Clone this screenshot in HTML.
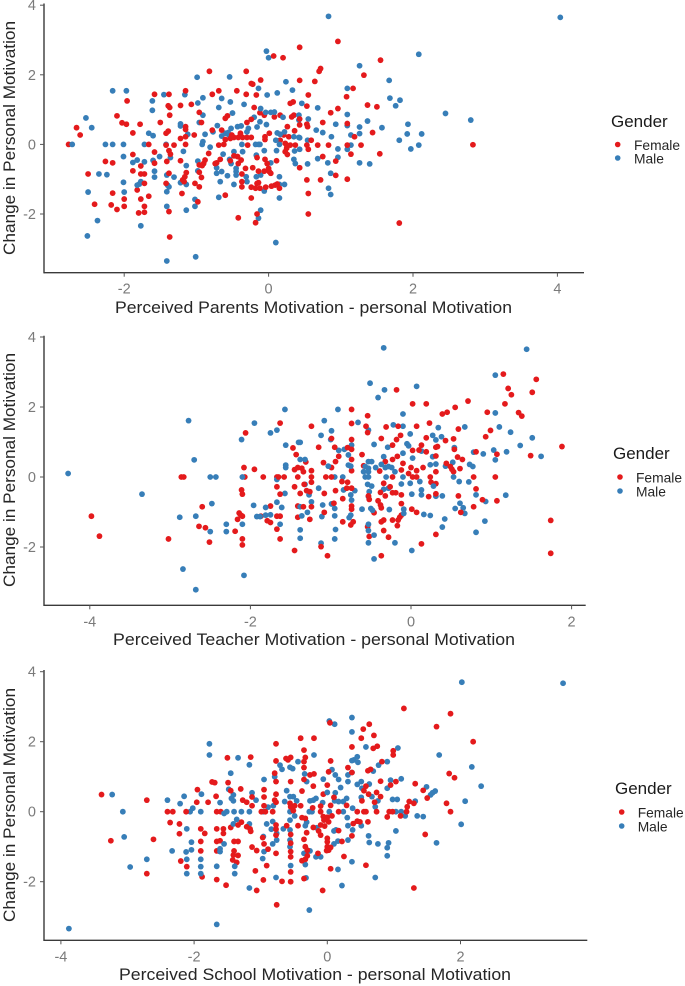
<!DOCTYPE html>
<html lang="en">
<head>
<meta charset="utf-8">
<title>Change in Personal Motivation scatter plots</title>
<style>
html,body{margin:0;padding:0;background:#fff;width:685px;height:986px;overflow:hidden}
svg{display:block;font-family:"Liberation Sans",Arial,sans-serif}
.title{font-size:16.5px;fill:#262626}
.tick{font-size:14.5px;fill:#7a7a7a}
.leg-title{font-size:17px;fill:#1a1a1a}
.leg{font-size:13.8px;fill:#262626}
</style>
</head>
<body>
<svg id="chart" xmlns="http://www.w3.org/2000/svg" width="685" height="986" viewBox="0 0 685 986">
  <g id="panel-parents">
    <text class="title" x="115" y="313" textLength="397" lengthAdjust="spacingAndGlyphs">Perceived Parents Motivation - personal Motivation</text>
    <text class="title" transform="translate(15,255) rotate(-90)" textLength="234" lengthAdjust="spacingAndGlyphs">Change in Personal Motivation</text>
    <text class="leg-title" x="611" y="127">Gender</text>
    <circle cx="617.7" cy="144.5" r="2.8" fill="#E41A1C"/>
    <text class="leg" x="634" y="150">Female</text>
    <circle cx="617.7" cy="158" r="2.8" fill="#377EB8"/>
    <text class="leg" x="634" y="163.5">Male</text>
  </g>
  <g id="panel-teacher">
    <text class="title" x="113" y="645" textLength="402" lengthAdjust="spacingAndGlyphs">Perceived Teacher Motivation - personal Motivation</text>
    <text class="title" transform="translate(15,587) rotate(-90)" textLength="234" lengthAdjust="spacingAndGlyphs">Change in Personal Motivation</text>
    <text class="leg-title" x="613" y="459">Gender</text>
    <circle cx="620" cy="477" r="2.8" fill="#E41A1C"/>
    <text class="leg" x="636" y="482.5">Female</text>
    <circle cx="620" cy="491" r="2.8" fill="#377EB8"/>
    <text class="leg" x="636" y="496.5">Male</text>
  </g>
  <g id="panel-school">
    <text class="title" x="119" y="980" textLength="392" lengthAdjust="spacingAndGlyphs">Perceived School Motivation - personal Motivation</text>
    <text class="title" transform="translate(15,922) rotate(-90)" textLength="234" lengthAdjust="spacingAndGlyphs">Change in Personal Motivation</text>
    <text class="leg-title" x="615" y="794">Gender</text>
    <circle cx="621.7" cy="812" r="2.8" fill="#E41A1C"/>
    <text class="leg" x="637.7" y="817.5">Female</text>
    <circle cx="621.7" cy="826" r="2.8" fill="#377EB8"/>
    <text class="leg" x="637.7" y="831.5">Male</text>
  </g>
</svg>
<script>
const yTicks = [4, 2, 0, -2];
const parentsXTicks = [-2, 0, 2, 4];
const teacherXTicks = [-4, -2, 0, 2];
const schoolXTicks = [-4, -2, 0, 2];

const parentsMale = [[-2.72,0],[-2.53,.76],[-2.45,.48],[-2.35,-.85],[-2.5,-1.37],[-2.37,-2.19],[-2.51,-2.63],[-2.24,-.87],[-2.26,0],[-2.16,0],[-2.16,1.54],[-1.97,1.54],[-2.01,0],[-2.01,-.35],[-2.01,-1.09],[-2,-1.37],[-1.88,-.52],[-1.82,-.45],[-1.72,-.5],[-1.82,-1.17],[-1.79,-1.14],[-1.77,-1.07],[-1.77,-2.34],[-1.66,.32],[-1.6,.25],[-1.72,0],[-1.61,1.25],[-1.61,.98],[-1.6,-.46],[-1.58,-.77],[-1.58,-.94],[-1.51,-.35],[-1.45,1.43],[-1.42,0],[-1.36,-.38],[-1.41,-.88],[-1.4,-1.17],[-1.38,-1.22],[-1.41,-1.36],[-1.41,-1.78],[-1.41,-3.35],[-1.31,-.94],[-1.22,.59],[-1.22,.53],[-1.12,.29],[-1.16,1.43],[-1.18,-.2],[-1.14,-.61],[-1.22,-1.1],[-1.14,-1.15],[-1.14,-1.89],[-.99,1.93],[-.91,1.34],[-.98,1.19],[-.91,.84],[-.96,.63],[-.88,.29],[-.91,.08],[-.92,0],[-.81,-.08],[-.98,-.48],[-.98,-.76],[-1.02,-1.58],[-1.02,-1.78],[-1.01,-3.23],[-.72,-.67],[-.72,-.83],[-.67,-1.07],[-.69,-1.52],[-.65,1.32],[-.69,1.06],[-.53,1.22],[-.54,1.94],[-.5,.9],[-.71,.54],[-.77,.36],[-.52,.46],[-.6,.32],[-.65,.24],[-.56,.34],[-.55,.27],[-.63,-.28],[-.65,-.78],[-.57,-.9],[-.52,-.55],[-.48,-1.15],[-.54,-.43],[-.48,-.21],[-.45,-.69],[-.45,-.78],[-.45,-.88],[-.43,.51],[-.38,.53],[-.34,1.15],[-.37,0],[-.36,-.21],[-.30,.36],[-.31,-.93],[-.3,-1.07],[-.28,.46],[-.2,.78],[-.16,.5],[-.14,1.61],[-.17,-.31],[-.18,0],[-.14,0],[-.12,0],[-.12,.65],[-.11,1.03],[-.02,1.42],[-.03,2.68],[0,2.49],[-.17,-.93],[-.11,-.88],[-.11,-1.89],[-.14,-2.12],[-.06,-.18],[-.06,-1.34],[-.03,.57],[-.04,.92],[.03,.92],[.08,.93],[.12,1.48],[.24,1.8],[.33,1.56],[.2,.78],[.42,.84],[.42,.7],[.12,.33],[.16,.29],[.22,.36],[.1,.12],[.15,0],[.03,-.53],[.11,-.18],[.15,-.93],[.15,-1.15],[.22,-1.15],[.15,-1.54],[.1,-2.82],[.35,.22],[.36,-.19],[.35,-.43],[.37,-.55],[.42,.2],[.83,3.68],[4.04,3.65],[2.08,2.59],[1.26,2.26],[1.67,1.84],[1.09,1.61],[1.68,1.33],[1.82,1.27],[1.76,1.11],[.46,1.18],[.68,1.05],[1.09,.86],[2.45,.89],[2.8,.7],[.55,.73],[.93,.58],[1.09,.54],[1.26,.5],[1.37,.67],[1.57,.48],[1.93,.58],[.66,.41],[.75,.34],[.87,.22],[1.14,.27],[1.26,.31],[1.92,.3],[2.12,.3],[1.81,.12],[2.08,-.02],[1.97,-.13],[1.14,-.02],[1.09,-.14],[.96,-.13],[.96,-.37],[.68,-.41],[.82,-.53],[.54,-.56],[1.26,-.53],[1.4,-.56],[.86,-.83],[.83,-1.26],[.86,-1.44],[.54,.12],[.43,.19],[.43,-.14]];

const parentsFemale = [[-2.77,0],[-2.66,.48],[-2.61,.27],[-2.5,-.85],[-2.41,-1.72],[-2.26,-.49],[-2.16,-.53],[-2.16,-1.4],[-2.18,-1.74],[-2.1,-1.87],[-2.1,.82],[-2.03,.62],[-1.97,.58],[-1.96,1.25],[-2,-1.57],[-2,-1.78],[-1.88,.33],[-1.88,-.29],[-1.88,-.76],[-1.82,-1.31],[-1.78,.58],[-1.77,-.62],[-1.77,-.85],[-1.72,-.85],[-1.72,-1.12],[-1.77,-1.57],[-1.72,-1.78],[-1.8,-1.97],[-1.72,-1.95],[-1.66,-1.49],[-1.66,0],[-1.58,1.44],[-1.58,-.22],[-1.58,-.54],[-1.5,.63],[-1.42,.32],[-1.39,.38],[-1.38,1.44],[-1.39,1.11],[-1.37,1.06],[-1.37,.84],[-1.42,-.02],[-1.38,-.18],[-1.36,-.28],[-1.41,-.49],[-1.38,-.83],[-1.42,-1.12],[-1.38,-1.93],[-1.37,-2.66],[-1.31,-.02],[-1.22,1.12],[-1.15,1.54],[-1.07,1.15],[-1.03,.27],[-1.15,.51],[-1.15,.43],[-1.15,.22],[-1.22,.17],[-1.15,0],[-1.22,-.47],[-1.14,-.81],[-1.16,-.93],[-1.19,-1.02],[-1.17,-1.07],[-1.2,-1.41],[-.96,.92],[-.93,.63],[-.98,-1.65],[-1.02,-1.12],[-.96,-1.22],[-.93,-.95],[-.96,-.8],[-.96,-.59],[-.92,-.61],[-.9,-.55],[-.88,-.45],[-.83,-.26],[-.82,2.1],[-.78,1.44],[-.69,1.54],[-.78,.41],[-.65,.41],[-.72,-.53],[-.67,-.43],[-.69,-.02],[-.62,0],[-.6,-1.46],[-.6,.75],[-.57,.82],[-.6,.14],[-.53,.17],[-.48,.2],[-.42,.2],[-.36,.2],[-.3,.2],[-.24,.2],[-.51,.27],[-.39,.32],[-.29,-.02],[-.31,2.1],[-.24,1.75],[-.22,1.73],[-.11,1.85],[-.44,1.54],[-.31,1.44],[-.17,1.42],[-.2,1.06],[-.12,.91],[-.24,.72],[-.3,.63],[-.06,.84],[.08,.79],[.01,.32],[-.05,.22],[-.05,.14],[.07,2.54],[.2,2.49],[.43,2.79],[.43,1.84],[.34,1.22],[.3,1.18],[.16,.84],[.26,.51],[.32,.79],[.35,.84],[.36,.39],[.28,.22],[.21,.27],[.16,.12],[.23,.03],[.25,-.02],[.3,-.02],[.25,-.11],[.23,-.21],[.26,-.29],[.37,-.02],[.43,-.67],[-.48,-.33],[-.43,-.35],[-.38,-.45],[-.53,-.47],[-.42,-.55],[-.37,-.85],[-.37,-1.07],[-.37,-1.22],[-.42,-2.11],[-.24,-1.54],[-.24,-1.23],[-.18,-1.26],[-.16,-1.12],[-.14,-1.1],[-.12,-1.26],[-.16,-.38],[-.32,-.69],[-.22,-.67],[-.14,-.77],[-.06,-.77],[0,-.69],[.01,-.78],[.03,-.83],[-.05,-.43],[-.02,-.55],[-.04,-1.23],[.04,-1.2],[.09,-1.17],[.12,-1.14],[.15,-1.26],[.11,-.47],[-.16,-2],[-.18,-2.25],[-.74,-.55],[.96,2.96],[1.55,2.42],[1.32,1.99],[.72,2.18],[.7,2.1],[.64,1.81],[1.17,1.61],[1.08,1.37],[.55,1.42],[1.37,1.13],[1.5,1.08],[.53,1.1],[.96,1.03],[.86,.91],[.75,.63],[1.09,.6],[.53,.58],[.54,.51],[.43,.73],[.43,.56],[1.44,.34],[1.19,.22],[.59,.12],[1.28,-.02],[1.09,-.02],[.83,-.02],[.68,-.02],[.53,-.02],[.55,-.14],[2.83,-.01],[1.54,-.27],[1.14,-.28],[.75,-.35],[.93,-.48],[.93,-.89],[1.09,-1],[.53,-1.02],[.72,-1.02],[.55,-1.41],[.55,-2],[1.81,-2.26]];

const teacherMale = [[-4.27,.1],[-3.35,-.49],[-2.77,1.61],[-2.7,.49],[-2.88,-1.15],[-2.68,-1.12],[-2.5,0],[-2.43,0],[-2.48,-.76],[-2.5,-1.56],[-2.3,-1.35],[-2.3,-1.56],[-2.84,-2.63],[-2.68,-3.22],[-2.11,1.07],[-1.95,1.54],[-1.75,1.26],[-1.67,1.34],[-1.57,1.93],[-1.56,.91],[-2.1,0],[-2.1,-1.35],[-2.08,-2.81],[-1.96,-.81],[-1.92,-1.13],[-1.88,-1.13],[-1.81,-.87],[-1.81,-1.09],[-1.75,-1.08],[-1.67,-.72],[-1.61,-.87],[-1.63,-1.35],[-1.67,-.07],[-1.57,-.47],[-1.56,.34],[-1.56,.27],[-1.4,.99],[-.34,3.69],[1.44,3.65],[1.05,2.91],[-.51,2.68],[-.33,2.49],[.07,2.59],[-.41,2.27],[-.91,1.93],[-1.08,1.61],[-.66,1.56],[-.99,1.32],[-1.12,1.19],[-1,1.07],[-1.38,.99],[-.74,.91],[-.53,1.34],[-.22,1.49],[-.1,1.8],[-.1,1.45],[.34,1.41],[.67,1.43],[1.05,1.83],[1.1,1.43],[1.24,1.28],[1.51,1.12],[1.36,.9],[1.62,.59],[1.19,.72],[1.05,.49],[1.03,.77],[.9,.66],[.78,.71],[.27,1.19],[.31,1.06],[.38,1.15],[-.46,.93],[-.29,.85],[-.05,.95],[-.03,.89],[-.01,1.23],[.54,.84],[-.9,.76],[-.83,.79],[-.78,.63],[-.1,.68],[-.34,.58],[.13,.74],[.02,.54],[.27,.58],[.24,.35],[.31,.37],[.43,.31],[.52,.42],[.73,.36],[.77,.3],[-1.32,.5],[-1.38,.5],[-.78,.34],[-.75,.31],[-1.03,.31],[-.53,.44],[-.49,.44],[-.57,.3],[-.53,.25],[-.59,.15],[-.53,.15],[-.57,0],[-.53,0],[-.44,.27],[-.37,.36],[-.32,.27],[-.28,.3],[-.24,.27],[-.2,.15],[-.31,0],[-.1,0],[-.95,0],[-.85,0],[-.54,-.21],[-.49,-.26],[-.52,-.42],[-.53,-.56],[-.34,-.35],[-.28,-.32],[-.12,-.2],[-.01,-.18],[.01,-.49],[.11,-.13],[.13,-.37],[.13,-.51],[.28,-.26],[.31,-.55],[.39,-.54],[.53,0],[.6,-.13],[.72,-.14],[.81,-.51],[.93,-.7],[1.18,-.52],[.61,-.75],[.55,-.9],[.65,-.88],[.67,-1.04],[.42,-1.2],[.39,-1.43],[.81,-1.58],[.92,-1.26],[.16,-1.07],[.24,-1.1],[-.09,-.92],[-.09,-1.04],[-.27,-.93],[-.5,-.9],[-.48,-.95],[-.61,-.92],[-.74,-.66],[-.84,-.37],[-.7,-.39],[-.75,-.51],[-.75,-1.09],[-.77,-1.16],[-.53,-1.35],[-.53,-1.53],[-.46,-1.66],[-.53,-1.88],[-.2,-1.88],[-.46,-2.34],[.01,-2.1],[-.94,-1.5],[-.95,-1.77],[-1.12,-1.89],[-1.11,-1.13],[-.95,-1.11],[-1.1,-.8],[-.99,-.77],[-.95,-.9],[-1.29,-1.01],[-1.24,-.71],[-1.15,-.32],[-1.27,-.51],[-1.32,-.21],[-1.38,-.85],[-1.36,-1.11],[-1.38,-1.51],[-1.38,-1.75]];

const teacherFemale = [[-3.98,-1.12],[-3.88,-1.69],[-3.02,-1.77],[-2.86,0],[-2.83,0],[-2.6,-.85],[-2.64,-1.41],[-2.56,-1.45],[-2.51,-1.86],[-2.19,-1.55],[-2.16,-1.21],[-2.14,-1.03],[-2.12,-1.09],[-2.1,-1.12],[-2.11,-.37],[-2.1,-.49],[-2.08,.27],[-2.07,0],[-2.06,1.26],[-2.1,-1.77],[-2.1,-1.94],[-1.95,.22],[-1.84,0],[-1.87,-1.12],[-1.79,-1.25],[-1.75,-1.3],[-1.75,-.83],[-1.67,-1.49],[-1.67,-1.12],[-1.63,-1.12],[-1.63,-1.77],[-1.63,1.54],[-1.67,0],[-1.65,0],[-1.58,0],[-1.67,-.28],[-1.63,-.49],[-1.47,.83],[-1.43,.64],[-1.45,.21],[-1.45,-.28],[-1.41,0],[-1.45,-2.1],[-1.41,-.83],[-1.41,-1.15],[-1.41,.27],[1.15,2.94],[1.56,2.79],[1.21,2.53],[1.25,2.35],[1.51,2.42],[1.17,2.09],[1.34,1.84],[1.38,1.74],[.95,1.85],[.71,2.17],[.55,1.99],[.45,1.85],[.39,1.8],[.19,2.09],[.02,2.09],[-.18,2.49],[-.74,1.93],[-.54,1.75],[-.74,1.53],[-.56,1.45],[-.54,1.27],[-1.24,1.45],[-.31,1.43],[-.16,1.45],[.07,1.45],[.23,1.54],[.59,1.37],[.99,1.33],[.93,1.15],[.19,1.12],[-.13,1.19],[-.18,1.07],[-.23,.91],[-.37,1.1],[-.74,1.07],[-.99,1.1],[-1.15,.85],[-.95,.85],[-.79,.84],[-.74,.79],[-.9,.59],[-.94,.44],[-1.09,.41],[-.99,.27],[-1.31,.43],[-.74,.5],[-.61,.64],[-.74,.18],[-.59,.32],[-.39,.17],[-.32,.44],[-.23,.5],[-.17,.59],[-.1,.39],[.02,.76],[.1,.77],[.13,.91],[.19,.72],[.31,.85],[.33,.87],[.43,1.04],[.53,1.09],[.54,.79],[.58,.57],[.64,.5],[.44,.39],[.49,.3],[.51,.22],[.53,.15],[.61,.24],[.31,.6],[.31,.15],[.15,.27],[.07,.18],[0,.27],[-.03,.1],[.02,0],[.07,0],[.24,0],[.25,-.15],[.31,-.19],[-.12,.2],[-.23,0],[-.34,-.18],[-.26,-.28],[-.38,-.44],[-.32,-.54],[-.23,-.45],[-.19,-.45],[-.12,-.51],[-.12,-.76],[-.12,-1.09],[-.14,-1.15],[-.16,-1.23],[-.17,-1.39],[-.23,-1.23],[-.34,-1.23],[-.37,-1.28],[-.41,-.68],[-.38,-.8],[-.37,-.88],[-.46,-1.02],[-.52,-.64],[-.53,-.54],[-.34,-1.53],[-.28,-1.72],[-.52,-1.7],[-.54,-1.42],[-.37,-2.25],[.01,-.92],[.07,-1.01],[.22,-.56],[.31,-.48],[.31,-1.64],[.13,-1.91],[.59,-.54],[.62,-1.01],[.78,-.85],[.81,-.34],[.78,0],[1.05,0],[.89,-.65],[1.07,-.68],[.81,.72],[1.07,.65],[1.49,.61],[1.88,.87],[1.74,-1.24],[1.74,-2.18],[-1.04,-2.25],[-1.12,-1.99],[-.72,-1.28],[-.75,-1.37],[-.85,-1.28],[-.74,-.92],[-.74,-.83],[-.85,-.62],[-.94,-.39],[-1.08,-.47],[-1.3,-.39],[-1.26,-.42],[-1.34,-.85],[-1.24,-.85],[-1.08,-1.01],[-1.26,-1.21],[-.96,-.75],[-1.24,.18],[-1.24,0],[-1.24,-.15],[-1.33,-.21],[-1.36,.25],[-1.34,.15],[-1.38,-.47],[-1.06,0],[-.99,0],[-.86,-.13],[-.79,-.15],[-.74,-.32],[-.8,-.32]];

const schoolMale = [[-3.88,-3.34],[-3.23,.49],[-3.07,0],[-3.05,-.72],[-2.96,-1.58],[-2.71,-1.36],[-2.4,.33],[-2.33,-1.12],[-2.21,.23],[-2.15,.44],[-2.02,.1],[-2.06,0],[-1.89,.5],[-1.9,0],[-2.11,-.49],[-2.04,-.87],[-2.04,-1.09],[-2.12,-1.15],[-2.11,-1.36],[-2.11,-1.77],[-1.9,-1.36],[-1.9,-1.57],[-1.9,-1.77],[-1.77,1.94],[-1.77,1.62],[-1.61,.26],[-1.51,0],[-1.55,-.05],[-1.34,1.54],[-1.45,1.1],[-1.48,.64],[-1.41,.48],[-1.44,.38],[-1.41,.31],[-1.4,0],[-1.29,0],[-1.17,0],[-1.36,-.22],[-1.41,-.35],[-1.17,-.35],[-1.61,-1.06],[-1.61,-1.14],[-1.55,-.92],[-1.66,-1.56],[-1.39,-1.56],[-1.39,-1.77],[-1.66,-3.22],[-1.17,1.34],[-1.13,.54],[-1.07,.33],[-1.17,-2.18],[-.95,.92],[-.96,0],[-.95,-1.14],[-.96,-.71],[-.97,-1.34],[-.91,-.35],[-.89,.13],[-.82,-.28],[-.81,.17],[-.84,-.5],[-.82,-.92],[-.76,-.81],[-.76,-.62],[-.77,-1.88],[-.79,1],[-.71,1.33],[-.68,1.21],[-.66,-.49],[-.64,.29],[-.61,.6],[-.56,1.27],[-.52,1.23],[-.44,1.43],[-.56,.43],[-.51,.43],[-.56,0],[-.46,.31],[-.49,-.12],[-.56,-.24],[-.56,-.52],[-.56,-.81],[-.56,-1],[-.55,-1.54],[2.02,3.7],[3.54,3.67],[.03,2.59],[.11,2.5],[.37,2.69],[.37,2.28],[.58,1.85],[1.06,1.82],[-.2,1.62],[.4,1.48],[.45,1.57],[.46,1.41],[.37,1.46],[1.68,1.62],[2.17,1.28],[.9,1.43],[.77,1.33],[.69,1.16],[.07,1.2],[.12,1.05],[.17,.92],[.31,.86],[.37,1.12],[.31,1.05],[-.06,.93],[-.31,.86],[-.34,1.08],[.2,.69],[.45,.78],[.51,.86],[.63,.79],[.52,.67],[.95,.9],[1.11,.94],[.9,.67],[1.49,.71],[1.62,.59],[1.58,.54],[1.55,.48],[2.31,.73],[2.07,.3],[2.01,-.36],[1.64,-.89],[1.32,.3],[1.44,-.14],[1.35,-.12],[1.17,-.12],[1.11,0],[1.03,0],[.98,.35],[1.05,.35],[.76,.31],[.72,.14],[.67,.43],[.51,.41],[.29,.38],[.24,.29],[.17,.29],[.11,.31],[.12,.54],[0,.55],[.38,.1],[-.07,.26],[-.17,.38],[-.21,.33],[-.26,.31],[-.27,0],[-.23,0],[.03,0],[.24,0],[.3,-.17],[.51,-.4],[.31,-.4],[.38,-.52],[.1,-.55],[.13,-.52],[-.16,-.46],[-.31,-.3],[-.33,-.4],[1.03,-.55],[.62,-.69],[.63,-.88],[.76,-.92],[.92,-.89],[.9,-1.03],[.9,-1.26],[.31,-.81],[.16,-.84],[.1,-.92],[-.26,-1.12],[-.35,-1.19],[-.17,-1.29],[-.1,-1.29],[.37,-1.43],[.16,-1.65],[-.33,-1.51],[.72,-1.88],[.22,-2.11],[-.32,-1.89],[-.27,-2.81]];

const schoolFemale = [[-3.39,.49],[-3.25,-.83],[-2.71,.33],[-2.61,-.79],[-2.71,-1.77],[-2.4,0],[-2.32,0],[-2.36,-.31],[-2.22,-.35],[-2.22,-.63],[-2.2,-1.41],[-2.11,-1.57],[-2.12,0],[-1.95,.63],[-1.96,.27],[-1.79,.27],[-1.9,-.49],[-1.84,-.62],[-1.9,-.85],[-1.9,-1.12],[-1.88,-1.86],[-1.73,.85],[-1.69,.83],[-1.67,.44],[-1.66,0],[-1.6,0],[-1.66,-.49],[-1.66,-.85],[-1.61,-.83],[-1.66,-1.12],[-1.66,-1.94],[-1.52,-2.1],[-1.5,1.54],[-1.49,.83],[-1.45,.6],[-1.45,-.45],[-1.56,-.49],[-1.56,-.62],[-1.4,-.85],[-1.34,-.85],[-1.4,-1.12],[-1.41,-1.24],[-1.34,-1.25],[-1.42,-1.38],[-1.36,-1.45],[-1.34,-.38],[-1.29,-.3],[-1.3,.65],[-1.27,.33],[-1.21,.27],[-1.15,1.56],[-1.13,.17],[-1.13,.42],[-1.21,-.43],[-1.16,-.49],[-1.15,-.56],[-1.13,-1.01],[-1.06,-1.11],[-1.08,-1.69],[-1.06,-2.25],[-.95,.63],[-.95,.42],[-.95,.17],[-.99,0],[-.93,0],[-.97,-.74],[-.95,-.92],[-.89,-1.07],[-.96,-1.95],[-.91,-1.54],[-.77,1.94],[-.77,1.45],[-.79,1.1],[-.77,.86],[-.77,.5],[-.79,.33],[-.77,.27],[-.82,0],[-.77,-.38],[-.77,-.5],[-.77,-.67],[-.77,-1.19],[-.68,-1.99],[-.76,-2.66],[-.62,1.52],[-.59,1.48],[-.55,1.55],[-.55,.86],[-.56,.24],[-.55,.14],[-.49,.17],[-.51,.03],[-.55,-.65],[-.55,-.9],[-.55,-1.14],[-.55,-1.29],[-.55,-1.72],[-.55,-2],[-.61,-.4],[-.44,-.4],[1.15,2.95],[1.85,2.8],[1.64,2.43],[2.19,2],[.04,2.54],[.63,2.5],[.54,2.36],[.7,2.18],[.51,2.1],[-.2,2.1],[-.4,2.1],[.37,1.85],[.75,1.87],[.69,1.81],[.99,1.74],[.99,1.62],[-.35,1.76],[-.33,1.55],[-.35,1.43],[.05,1.45],[.82,1.43],[-.35,1.26],[.31,1.26],[.61,1.17],[.65,1.21],[.37,1.12],[.02,1.14],[-.2,1.08],[-.26,1.05],[-.35,.92],[1.83,1.09],[1.91,.97],[.8,.87],[1.03,.86],[.95,.76],[1.32,.8],[-.21,.73],[0,.76],[.58,.73],[.55,.6],[.62,.5],[.74,.55],[.8,.43],[-.38,.59],[-.06,.5],[.1,.41],[1.44,.61],[1.5,.39],[.52,.31],[.71,.27],[1.23,.29],[1.3,.24],[1.2,.14],[.29,.18],[.05,.18],[-.22,.11],[-.1,.16],[-.4,.17],[1.79,.24],[1.85,0],[.45,0],[.55,0],[.58,0],[.74,0],[.93,0],[.98,0],[1.19,0],[.17,0],[-.1,0],[.9,-.15],[1.1,-.12],[.61,-.29],[.45,-.27],[.49,-.29],[.39,-.34],[-.06,-.14],[0,-.16],[-.05,-.24],[.02,-.29],[.07,-.12],[-.38,-.17],[-.33,-.19],[-.1,-.38],[-.04,-.41],[-.21,-.45],[.17,-.54],[-.13,-.55],[-.1,-.67],[-.31,-.6],[.37,-.69],[1.47,-.65],[.22,-.85],[-.35,-.79],[0,-.76],[0,-.86],[0,-1],[.05,-1.02],[.02,-1.1],[-.01,-1.11],[-.33,-1],[-.3,-1.1],[-.14,-1.19],[-.3,-1.26],[-.33,-1.36],[-.38,-1.4],[.25,-1.28],[.58,-1.53],[.05,-1.63],[-.35,-1.91],[-.07,-2.25],[1.3,-2.18]];

const NS = 'http://www.w3.org/2000/svg';

function scale(originPx, pxPerUnit, sign) {
  return function (v) { return originPx + sign * pxPerUnit * v; };
}

function drawPoint(group, prefix, p, xFn, yFn, colour) {
  const c = document.createElementNS(NS, 'circle');
  c.setAttribute('cx', xFn(p[0]).toFixed(2));
  c.setAttribute('cy', yFn(p[1]).toFixed(2));
  c.setAttribute('r', '2.9');
  c.setAttribute('fill', colour);
  
  
  group.appendChild(c);
}

function drawAxes(group, name, xFn, yFn, xTicks, left, top, bottom, right) {
  const yAxis = document.createElementNS(NS, 'line');
  yAxis.setAttribute('x1', left); yAxis.setAttribute('x2', left);
  yAxis.setAttribute('y1', top); yAxis.setAttribute('y2', bottom + 0.7);
  yAxis.setAttribute('stroke', '#3a3a3a'); yAxis.setAttribute('stroke-width', '1.4');
  
  
  group.appendChild(yAxis);

  const xAxis = document.createElementNS(NS, 'line');
  xAxis.setAttribute('x1', left); xAxis.setAttribute('x2', right);
  xAxis.setAttribute('y1', bottom); xAxis.setAttribute('y2', bottom);
  xAxis.setAttribute('stroke', '#3a3a3a'); xAxis.setAttribute('stroke-width', '1.4');
  
  
  group.appendChild(xAxis);

  yTicks.forEach(function (t) {
    const m = document.createElementNS(NS, 'line');
    m.setAttribute('x1', left - 4); m.setAttribute('x2', left);
    m.setAttribute('y1', yFn(t)); m.setAttribute('y2', yFn(t));
    m.setAttribute('stroke', '#555'); m.setAttribute('stroke-width', '1');
    
    
    group.appendChild(m);
    const l = document.createElementNS(NS, 'text');
    l.setAttribute('class', 'tick');
    l.setAttribute('x', left - 8); l.setAttribute('y', yFn(t) + 5);
    l.setAttribute('text-anchor', 'end');
    
    
    l.textContent = String(t);
    group.appendChild(l);
  });

  xTicks.forEach(function (t) {
    const m = document.createElementNS(NS, 'line');
    m.setAttribute('x1', xFn(t)); m.setAttribute('x2', xFn(t));
    m.setAttribute('y1', bottom); m.setAttribute('y2', bottom + 4);
    m.setAttribute('stroke', '#555'); m.setAttribute('stroke-width', '1');
    
    
    group.appendChild(m);
    const l = document.createElementNS(NS, 'text');
    l.setAttribute('class', 'tick');
    l.setAttribute('x', xFn(t)); l.setAttribute('y', bottom + 21);
    l.setAttribute('text-anchor', 'middle');
    
    
    l.textContent = String(t);
    group.appendChild(l);
  });
}

function drawPanel(name, female, male, xTicks, x0, xUnit, y0, yUnit, left, top, bottom, right) {
  const group = document.getElementById('panel-' + name);
  const xFn = scale(x0, xUnit, 1);
  const yFn = scale(y0, yUnit, -1);
  const count = Math.max(female.length, male.length);
  for (let i = 0; i < count; i++) {
    if (i < female.length) drawPoint(group, name + '-female', female[i], xFn, yFn, '#E41A1C');
    if (i < male.length) drawPoint(group, name + '-male', male[i], xFn, yFn, '#377EB8');
  }
  drawAxes(group, name, xFn, yFn, xTicks, left, top, bottom, right);
}

drawPanel('parents', parentsFemale, parentsMale, parentsXTicks, 268.6, 72.2, 144.4, 34.8, 44, 3.5, 272.7, 584);
drawPanel('teacher', teacherFemale, teacherMale, teacherXTicks, 411, 80.3, 477, 35, 44, 335.7, 605.3, 585.7);
drawPanel('school', schoolFemale, schoolMale, schoolXTicks, 327.3, 66.6, 811.7, 35, 44, 670, 940.3, 587.3);
</script>
</body>
</html>
